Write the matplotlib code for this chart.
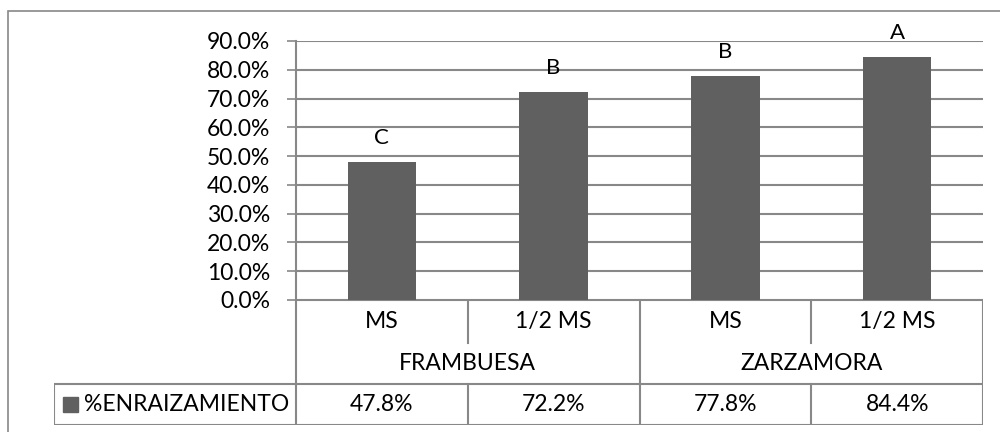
import matplotlib.pyplot as plt
from matplotlib.patches import Rectangle

# Data
groups = ['FRAMBUESA', 'ZARZAMORA']
media = ['MS', '1/2 MS', 'MS', '1/2 MS']
enraizamiento = [47.8, 72.2, 77.8, 84.4]
letters = ['C', 'B', 'B', 'A']
series_name = '%ENRAIZAMIENTO'
yticks = [0, 10, 20, 30, 40, 50, 60, 70, 80, 90]

# Style
W, H = 1000, 432
BAR_COLOR = '#606060'
LINE_COLOR = '#888888'
FONT = 'Lato'
FS = 16.5
plt.rcParams['font.family'] = [FONT, 'DejaVu Sans']

# pixel layout (top-left origin)
PX_LEFT, PX_RIGHT = 296, 983
PX_TOP, PX_ZERO = 41, 300
PX_LEG = 54
PX_ROW1, PX_ROW2, PX_BOT = 343, 384, 425


def fx(px):
    return px / W


def fy(py):
    return 1 - py / H


fig = plt.figure(figsize=(W / 100, H / 100), dpi=100)

# outer chart frame (cropped on right/bottom)
fig.patches.append(Rectangle((fx(8), -0.1), 1.2, fy(11) + 0.1, transform=fig.transFigure,
                             fill=False, edgecolor=LINE_COLOR, linewidth=1.2))

ax = fig.add_axes([fx(PX_LEFT), fy(PX_ZERO), fx(PX_RIGHT - PX_LEFT), (PX_ZERO - PX_TOP) / H])
x = list(range(len(enraizamiento)))
bars = ax.bar(x, enraizamiento, width=0.4, color=BAR_COLOR, zorder=3)
for xi, v, lab in zip(x, enraizamiento, letters):
    ax.annotate(lab, (xi, v), xytext=(0, 17.5), textcoords='offset points',
                ha='center', va='center', fontsize=FS - 0.5, color='black')

ax.set_xlim(-0.5, len(x) - 0.5)
ax.set_ylim(0, 90)
ax.set_yticks(yticks)
ax.set_yticklabels([f'{t:.1f}%' for t in yticks])
ax.tick_params(axis='y', length=6.5, width=1.2, color=LINE_COLOR, pad=12, labelsize=FS)
ax.set_xticks([])
ax.grid(axis='y', color=LINE_COLOR, linewidth=1.5, zorder=0)
for s in ['top', 'right', 'bottom']:
    ax.spines[s].set_visible(False)
ax.spines['left'].set_color(LINE_COLOR)
ax.spines['left'].set_linewidth(1.5)

# data table below the plot
cat_w = (PX_RIGHT - PX_LEFT) / len(x)
tx0 = -0.5 - (PX_LEFT - PX_LEG) / cat_w
tab = fig.add_axes([fx(PX_LEG), fy(PX_BOT), fx(PX_RIGHT - PX_LEG), (PX_BOT - PX_ZERO) / H])
tab.set_xlim(tx0, len(x) - 0.5)
tab.set_ylim(PX_BOT, PX_ZERO)
tab.axis('off')

lk = dict(color=LINE_COLOR, linewidth=1.5, solid_capstyle='projecting')
# horizontal lines
tab.plot([-0.5, len(x) - 0.5], [PX_ZERO, PX_ZERO], **lk)
tab.plot([tx0, len(x) - 0.5], [PX_ROW2, PX_ROW2], **lk)
tab.plot([tx0, len(x) - 0.5], [PX_BOT, PX_BOT], **lk)
# vertical lines
for b in range(len(x) + 1):
    xb = b - 0.5
    if b % 2 == 0:
        tab.plot([xb, xb], [PX_ZERO, PX_BOT], **lk)
    else:
        tab.plot([xb, xb], [PX_ZERO, PX_ROW1], **lk)
        tab.plot([xb, xb], [PX_ROW2, PX_BOT], **lk)
tab.plot([tx0, tx0], [PX_ROW2, PX_BOT], **lk)

for xi, m, v in zip(x, media, enraizamiento):
    tab.text(xi, (PX_ZERO + PX_ROW1) / 2, m, ha='center', va='center', fontsize=FS)
    tab.text(xi, (PX_ROW2 + PX_BOT) / 2, f'{v:.1f}%', ha='center', va='center', fontsize=FS)
for gi, g in enumerate(groups):
    tab.text(gi * 2 + 0.5, (PX_ROW1 + PX_ROW2) / 2, g, ha='center', va='center', fontsize=FS)

# legend key inside table
px_per = cat_w
tab.add_patch(Rectangle((tx0 + 9 / px_per, 397), 15 / px_per, 15, color=BAR_COLOR, clip_on=False))
tab.text(tx0 + 30 / px_per, (PX_ROW2 + PX_BOT) / 2, series_name, ha='left', va='center', fontsize=FS)

fig.savefig('out.png', dpi=100)
